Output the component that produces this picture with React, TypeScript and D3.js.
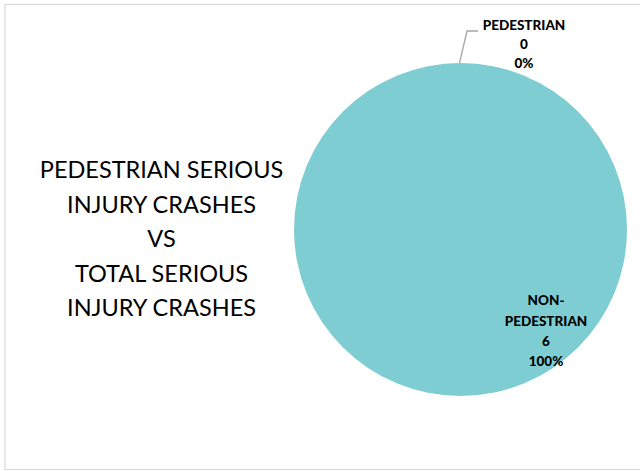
import React from "react";
import * as d3 from "d3";

const categories = ["PEDESTRIAN", "NON-PEDESTRIAN"];
const values = [0, 6];
const colors = ["#4472C4", "#7ECDD2"];
const titleLines = ["PEDESTRIAN SERIOUS", "INJURY CRASHES", "VS", "TOTAL SERIOUS", "INJURY CRASHES"];

export default function App() {
  const W = 640, H = 471;
  const cx = 460.5, cy = 229.5, r = 166.5;
  const total = d3.sum(values);
  const pie = d3.pie<number>().sort(null).startAngle(0).endAngle(2 * Math.PI)(values);
  const arc = d3.arc<d3.PieArcDatum<number>>().innerRadius(0).outerRadius(r);
  const pct = (v: number) => d3.format(".0%")(v / total);
  const font = "Lato, 'Open Sans', sans-serif";
  return (
    <svg width={W} height={H} style={{ position: "fixed", left: 0, top: 0 }}>
      <rect x={0} y={0} width={W} height={H} fill="#fff" />
      <rect x={5} y={4.5} width={W + 10} height={465} fill="none" stroke="#d9d9d9" strokeWidth={1.2} />
      <g transform={`translate(${cx},${cy})`}>
        {pie.map((d, i) => (
          <path key={i} d={arc(d) || ""} fill={colors[i]} />
        ))}
      </g>
      <polyline points={`${cx - 1},${cy - r} 467,31 478,31`} fill="none" stroke="#a6a6a6" strokeWidth={1.3} />
      <g fontFamily={font} fontWeight={900} fontSize={13.5} textAnchor="middle" fill="#000">
        <text x={524} y={30}>{categories[0]}</text>
        <text x={524} y={49}>{values[0]}</text>
        <text x={524} y={68}>{pct(values[0])}</text>
        <text x={546} y={305}>NON-</text>
        <text x={546} y={326}>PEDESTRIAN</text>
        <text x={546} y={346}>{values[1]}</text>
        <text x={546} y={366}>{pct(values[1])}</text>
      </g>
      <g fontFamily={font} fontSize={23.5} textAnchor="middle" fill="#000">
        {titleLines.map((t, i) => (
          <text key={i} x={161.5} y={178 + i * 34.5}>{t}</text>
        ))}
      </g>
    </svg>
  );
}
